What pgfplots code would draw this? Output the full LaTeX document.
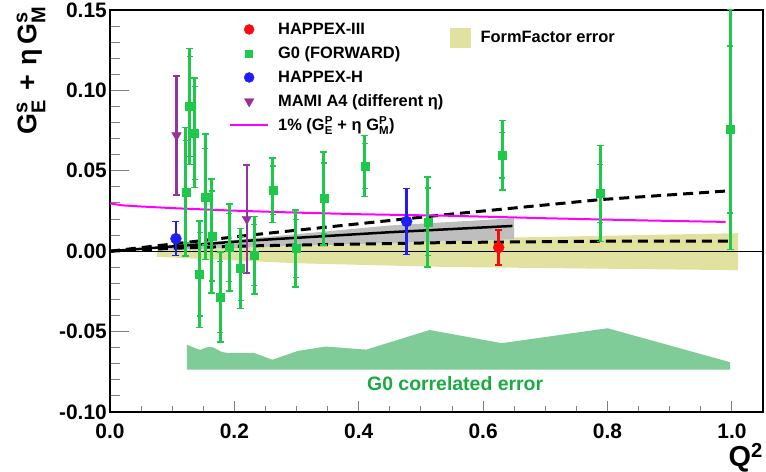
\documentclass[border=0pt]{standalone}
\usepackage{fontspec}
\setmainfont{Liberation Sans}
\usepackage{amsmath}
\usepackage{pgfplots}
\usepackage{pgfplotstable}
\pgfplotsset{compat=1.18}

\definecolor{gzero}{RGB}{30,200,75}
\definecolor{gzerotxt}{RGB}{25,170,65}
\definecolor{mami}{RGB}{150,50,155}
\definecolor{hapb}{RGB}{30,30,245}
\definecolor{hapr}{RGB}{250,10,10}
\definecolor{ffband}{RGB}{226,226,160}
\definecolor{corrband}{RGB}{128,204,152}
\definecolor{fitband}{RGB}{190,190,190}
\definecolor{onepct}{RGB}{255,0,255}

% stacked superscript/subscript in the current text font
\newcommand\supsub[2]{\ensuremath{^{\text{#1}}_{\text{#2}}}}
% same, with an explicit script size (for the large axis title)
\newcommand\bigsupsub[2]{\ensuremath{^{\hbox{\fontsize{20}{20}\selectfont #1}}_{\hbox{\fontsize{20}{20}\selectfont #2}}}}

\pgfplotsset{
  markleg/.style={legend image code/.code={\path (0bp,0bp) (38bp,0bp); \draw[##1] plot coordinates {(19bp,0bp)};}},
  lineleg/.style={legend image code/.code={\draw[##1] (0bp,0bp) -- (38bp,0bp);}},
  boxleg/.style={legend image code/.code={\fill[ffband] (0bp,-9.5bp) rectangle (20bp,9.5bp);}},
  barstyle/.style={
    error bars/.cd, y dir=both, y explicit,
    error bar style={line width=#1},
  },
}

% G0 forward angle: Q^2, value, total error, statistical error
\pgfplotstableread{
q      v        tot     stat
0.122  0.0370   0.0400  0.0320
0.128  0.0900   0.0360  0.0310
0.136  0.0736   0.0340  0.0290
0.144 -0.0143   0.0330  0.0260
0.153  0.0338   0.0390  0.0300
0.164  0.0095   0.0355  0.0280
0.177 -0.0284   0.0280  0.0220
0.192  0.0023   0.0270  0.0210
0.210 -0.0108   0.0250  0.0200
0.232 -0.0025   0.0240  0.0190
0.262  0.0380   0.0200  0.0150
0.299  0.0017   0.0240  0.0180
0.344  0.0328   0.0290  0.0220
0.410  0.0529   0.0190  0.0140
0.511  0.0182   0.0280  0.0210
0.631  0.0597   0.0216  0.0141
0.788  0.0359   0.0300  0.0180
0.997  0.0757   0.0746  0.0520
}\gzerotab

% HAPPEX-III
\pgfplotstableread{
q      v        err
0.625  0.0023   0.0110
}\hapthree

% HAPPEX-H
\pgfplotstableread{
q      v        err
0.106  0.0078   0.0105
0.477  0.0185   0.0205
}\haph

% MAMI A4
\pgfplotstableread{
q      v        err
0.107  0.0720   0.0370
0.220  0.0200   0.0335
}\mami

\begin{document}
\begin{tikzpicture}
\path[use as bounding box] (-110bp,-60bp) rectangle (656bp,412bp);

\begin{axis}[
  at={(0,0)}, anchor=south west,
  scale only axis, width=653bp, height=402bp,
  xmin=0, xmax=1.05, ymin=-0.10, ymax=0.15,
  axis line style={line width=1.2bp},
  tick pos=left, tick align=inside,
  xtick={0,0.2,0.4,0.6,0.8,1.0}, minor x tick num=3,
  ytick={-0.10,-0.05,0,0.05,0.10,0.15}, minor y tick num=4,
  xtick style={line width=1bp, /pgfplots/major tick length=11bp, /pgfplots/minor tick length=6bp},
  ytick style={line width=1bp, /pgfplots/major tick length=19bp, /pgfplots/minor tick length=10bp},
  /pgf/number format/assume math mode=true,
  ticklabel style={font=\fontsize{21}{24}\selectfont\bfseries},
  xticklabel style={/pgf/number format/fixed, /pgf/number format/fixed zerofill,
    /pgf/number format/precision=1, inner sep=0pt, anchor=north, yshift=-12bp},
  yticklabel style={/pgf/number format/fixed, /pgf/number format/fixed zerofill,
    /pgf/number format/precision=2, inner sep=0pt, anchor=east, xshift=-3bp},
  xlabel={Q\textsuperscript{2}},
  xlabel style={at={(rel axis cs:1,0)}, anchor=south east, yshift=-60bp, inner sep=0pt,
    font=\fontsize{29}{32}\selectfont\bfseries},
  legend style={at={(axis cs:0.1913,0.1430)}, anchor=north west, draw=none, fill=none,
    font=\fontsize{16.5}{19}\selectfont\bfseries, row sep=8bp, column sep=9bp, inner sep=0pt,
    nodes={inner sep=0pt, text height=13bp, text depth=3bp}},
  legend cell align=left,
]

% legend entries
\addlegendimage{only marks, mark=*, mark size=5bp, hapr, markleg}
\addlegendentry{HAPPEX-III}
\addlegendimage{only marks, mark=square*, mark size=3.5bp, gzero, markleg}
\addlegendentry{G0 (FORWARD)}
\addlegendimage{only marks, mark=*, mark size=5bp, hapb, markleg}
\addlegendentry{HAPPEX-H}
\addlegendimage{only marks, mark=triangle*, mark size=5.5bp, mark options={rotate=180}, mami, markleg}
\addlegendentry{MAMI A4 (different η)}
\addlegendimage{onepct, line width=2bp, lineleg}
\addlegendentry{1\% (G\supsub{P}{E} + η G\supsub{P}{M})}

% G0 correlated systematic error
\addplot[forget plot, draw=none, fill=corrband] coordinates {
  (0.1235,-0.0582) (0.145,-0.0614) (0.155,-0.0598) (0.164,-0.0595) (0.180,-0.0627)
  (0.190,-0.0633) (0.232,-0.0633) (0.261,-0.0675) (0.302,-0.0620) (0.347,-0.0593)
  (0.412,-0.0612) (0.514,-0.0490) (0.630,-0.0572) (0.800,-0.0479) (0.997,-0.0690)
  (0.997,-0.0736) (0.1235,-0.0736)};

% form factor uncertainty band
\addplot[forget plot, draw=none, fill=ffband] coordinates {
  (0.075,0.0008) (0.30,0.0030) (0.54,0.0060) (0.65,0.0085) (1.01,0.0112)
  (1.01,-0.0118) (0.54,-0.0098) (0.30,-0.0075) (0.075,-0.0035)};

% fit uncertainty band
\addplot[forget plot, draw=none, fill=fitband] coordinates {
  (0.08,0.0030) (0.20,0.0070) (0.45,0.0160) (0.65,0.0205)
  (0.65,0.0075) (0.45,0.0050) (0.20,0.0020) (0.08,0.0008)};

% zero line
\addplot[forget plot, black, line width=0.8bp] coordinates {(0,0) (1.05,0)};

% fit and its bounds
\addplot[forget plot, black, line width=2.5bp] coordinates {
  (0,0) (0.225,0.0066) (0.45,0.0118) (0.647,0.0157)};
\addplot[forget plot, black, line width=3bp, dash pattern=on 10bp off 6bp] coordinates {
  (0,0) (0.225,0.0100) (0.547,0.0230) (0.789,0.0321) (0.994,0.0375)};
\addplot[forget plot, black, line width=3bp, dash pattern=on 10bp off 6bp] coordinates {
  (0,0) (0.10,0.0018) (0.225,0.0033) (0.547,0.0054) (0.789,0.0062) (0.994,0.0062)};

% 1% of the proton form factor combination
\addplot[forget plot, onepct, line width=2bp] coordinates {
  (0,0.0297) (0.02,0.0285) (0.05,0.0278) (0.10,0.0268) (0.20,0.0252) (0.30,0.0240)
  (0.40,0.0230) (0.55,0.0220) (0.70,0.0205) (0.85,0.0192) (0.99,0.0182)};

% MAMI A4
\addplot[forget plot, only marks, mark=triangle*, mark size=5.5bp, mark options={rotate=180}, mami,
  barstyle=2.4bp, error mark options={rotate=90, mark size=3.5bp, line width=1.4bp, mami}]
  table[x=q, y=v, y error=err] {\mami};

% G0 forward: total and statistical error bars
\addplot[forget plot, only marks, mark=square*, mark size=4bp, gzero,
  barstyle=3bp, error mark options={rotate=90, mark size=3.5bp, line width=1.4bp, gzero}]
  table[x=q, y=v, y error=tot] {\gzerotab};
\addplot[forget plot, only marks, mark=square*, mark size=4bp, gzero,
  barstyle=3bp, error mark options={rotate=90, mark size=3bp, line width=1.4bp, gzero}]
  table[x=q, y=v, y error=stat] {\gzerotab};

% HAPPEX-H
\addplot[forget plot, only marks, mark=*, mark size=5.5bp, hapb,
  barstyle=2.4bp, error mark options={rotate=90, mark size=3.5bp, line width=1.4bp, hapb}]
  table[x=q, y=v, y error=err] {\haph};

% HAPPEX-III
\addplot[forget plot, only marks, mark=*, mark size=5.5bp, hapr,
  barstyle=2.4bp, error mark options={rotate=90, mark size=3.5bp, line width=1.4bp, hapr}]
  table[x=q, y=v, y error=err] {\hapthree};

\node[gzerotxt, anchor=base, font=\fontsize{19.5}{22}\selectfont\bfseries]
  at (axis cs:0.555,-0.0864) {G0 correlated error};
\end{axis}

% second legend for the form factor band
\begin{axis}[
  at={(0,0)}, anchor=south west,
  scale only axis, width=653bp, height=402bp,
  xmin=0, xmax=1.05, ymin=-0.10, ymax=0.15,
  hide axis,
  legend style={at={(axis cs:0.5466,0.1328)}, anchor=west, draw=none, fill=none,
    font=\fontsize{16.5}{19}\selectfont\bfseries, column sep=10bp, inner sep=0pt,
    nodes={inner sep=0pt}},
  legend cell align=left,
]
\addlegendimage{boxleg}
\addlegendentry{FormFactor error}
\end{axis}

\node[rotate=90, anchor=east, inner sep=0pt, font=\fontsize{27}{30}\selectfont\bfseries]
  at (-79bp,406bp) {G\bigsupsub{s}{E}\hspace{9bp}+\hspace{9bp}η\hspace{5bp}G\bigsupsub{s}{M}};
\end{tikzpicture}
\end{document}
